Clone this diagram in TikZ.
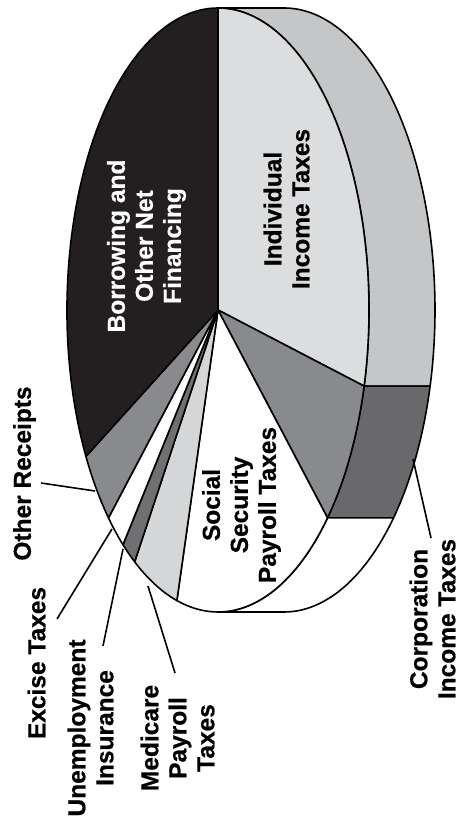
\documentclass[tikz,border=0pt]{standalone}
\usepackage{fontspec}
\setmainfont{Liberation Sans}[BoldFeatures={FakeBold=0.6}]
\usetikzlibrary{calc}
\definecolor{indface}{HTML}{DCDDDF}
\definecolor{indside}{HTML}{C5C6C8}
\definecolor{midgray}{HTML}{898A8D}
\definecolor{corpside}{HTML}{69696B}
\definecolor{medface}{HTML}{D5D6D8}
\definecolor{unempface}{HTML}{707072}
\definecolor{borrowface}{HTML}{231F20}
\newcommand{\faceslice}[3]{%
  \filldraw[fill=#1, edge] (C) -- ($(C)+(#2:151pt and 302pt)$)
    arc[start angle=#2, end angle=#3, x radius=151pt, y radius=302pt] -- cycle;}
\newcommand{\sideslice}[3]{%
  \filldraw[fill=#1, edge] ($(C)+(#2:151pt and 302pt)$)
    arc[start angle=#2, end angle=#3, x radius=151pt, y radius=302pt]
    -- ++(66pt,0)
    arc[start angle=#3, end angle=#2, x radius=151pt, y radius=302pt] -- cycle;}
\tikzset{
  edge/.style={draw=black, line width=1.6pt, line join=round},
  rim/.style={draw=black, line width=2.6pt},
  lbl/.style={font=\bfseries\fontsize{24.5}{28}\selectfont, rotate=90, align=center, inner sep=0pt},
  leader/.style={draw=black, line width=1.6pt},
}
\begin{document}
\begin{tikzpicture}[x=1pt, y=1pt]
\useasboundingbox (0,0) rectangle (459,827);
\coordinate (C) at (218,517);
% side wall
\sideslice{indside}{90}{-14.6}
\sideslice{corpside}{-14.6}{-43.5}
\sideslice{white}{-43.5}{-90}
% thick top and bottom rims of the side wall
\coordinate (topL) at (218,819);  \coordinate (topR) at (284,819);
\coordinate (botL) at (218,215);  \coordinate (botR) at (284,215);
\draw[rim] (topL) -- (topR);
\draw[rim] (botL) -- (botR);
% top face
\faceslice{indface}{90}{-14.6}
\faceslice{midgray}{-14.6}{-43.5}
\faceslice{white}{-43.5}{-105.8}
\faceslice{medface}{-105.8}{-123.5}
\faceslice{unempface}{-123.5}{-129}
\faceslice{white}{-129}{-136.5}
\faceslice{midgray}{-136.5}{-151}
\faceslice{borrowface}{-151}{-270}
% labels
\node[lbl, text=white] (borrow) at (146.5,581) {Borrowing and\\Other Net\\Financing};
\node[lbl] (indiv) at (286.5,618) {Individual\\Income Taxes};
\node[lbl] (socsec) at (241.5,322) {Social\\Security\\Payroll Taxes};
\node[lbl] (other) at (24.5,353.5) {Other Receipts};
\node[lbl] (excise) at (36.5,164) {Excise Taxes};
\node[lbl] (unemp) at (90.5,99) {Unemployment\\Insurance};
\node[lbl] (medic) at (177.5,89) {Medicare\\Payroll\\Taxes};
\node[lbl] (corp) at (432.5,208) {Corporation\\Income Taxes};
% leader lines
\coordinate (otherA) at (41,344);   \coordinate (otherB) at (95,336);
\coordinate (exciseA) at (57,208);  \coordinate (exciseB) at (112,298);
\coordinate (unempA) at (103,181);  \coordinate (unempB) at (123,278);
\coordinate (medicA) at (175,154);  \coordinate (medicB) at (148,241);
\coordinate (corpA) at (431,289);   \coordinate (corpB) at (413,368);
\draw[leader] (otherA) -- (otherB);
\draw[leader] (exciseA) -- (exciseB);
\draw[leader] (unempA) -- (unempB);
\draw[leader] (medicA) -- (medicB);
\draw[leader] (corpA) -- (corpB);
\end{tikzpicture}
\end{document}
